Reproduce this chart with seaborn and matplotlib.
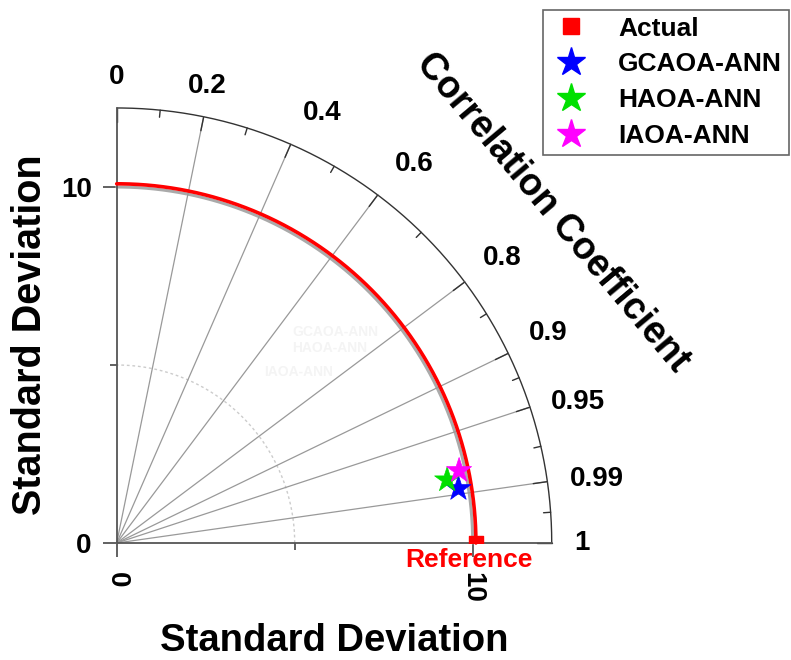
import numpy as np
import pandas as pd
import matplotlib
matplotlib.use('Agg')
import matplotlib.pyplot as plt
import seaborn as sns
from matplotlib.lines import Line2D

# ---------------- data ----------------
models = ['GCAOA-ANN', 'HAOA-ANN', 'IAOA-ANN']
model_std = [9.72, 9.45, 9.83]
model_corr = [0.9876, 0.9823, 0.9784]
model_colors = ['#0000ff', '#00e000', '#ff00ff']
ref_label = 'Actual'
ref_std = 10.09
ref_color = '#ff0000'
corr_major = [0, 0.2, 0.4, 0.6, 0.8, 0.9, 0.95, 0.99, 1]
corr_major_labels = ['0', '0.2', '0.4', '0.6', '0.8', '0.9', '0.95', '0.99', '1']
corr_minor = [0.1, 0.3, 0.5, 0.7, 0.85, 0.925, 0.975, 0.9975]
std_major = [0, 10]
std_major_labels = ['0', '10']
std_minor = [5]
std_max = 12.22
std_dotted = 5
std_grid = 10

# ---------------- style ----------------
sns.set_theme(style='white')
plt.rcParams['font.family'] = ['Liberation Sans', 'DejaVu Sans']
plt.rcParams['font.weight'] = 'bold'
plt.rcParams['text.color'] = 'black'
plt.rcParams['axes.labelcolor'] = 'black'
plt.rcParams['xtick.color'] = 'black'
plt.rcParams['ytick.color'] = 'black'

W, H = 791, 660
fig = plt.figure(figsize=(W / 100, H / 100), dpi=100)
scale = 35.6          # pixels per std unit
L = 12.6
ox, oy = 116.7, 543
ax = fig.add_axes([ox / W, (H - oy) / H, L * scale / W, L * scale / H])
ax.set_xlim(0, L)
ax.set_ylim(0, L)
for s in ax.spines.values():
    s.set_visible(False)
ax.patch.set_alpha(0)

axc = '#555555'
# axis lines
ax.plot([0, 0], [0, std_max], color=axc, lw=1.3, clip_on=False, zorder=3)
ax.plot([0, std_max], [0, 0], color=axc, lw=1.3, clip_on=False, zorder=3)

ax.set_xticks(std_major)
ax.set_xticklabels(std_major_labels, rotation=-90)
ax.set_xticks(std_minor, minor=True)
ax.set_yticks(std_major)
ax.set_yticklabels(std_major_labels)
ax.set_yticks(std_minor, minor=True)
ax.tick_params(which='both', bottom=True, left=True, direction='out', color=axc, width=1.3)
ax.tick_params(which='major', length=10, labelsize=20, labelcolor='black')
ax.tick_params(axis='x', which='major', pad=11)
ax.tick_params(axis='y', which='major', pad=8)
ax.tick_params(which='minor', length=5)
for t in ax.get_xticklabels() + ax.get_yticklabels():
    t.set_fontweight('bold')

th = np.linspace(0, np.pi / 2, 400)
# outer arc
ax.plot(std_max * np.cos(th), std_max * np.sin(th), color='#333333', lw=1.0, clip_on=False)
# std grid circle and dotted circle
ax.plot(std_grid * np.cos(th), std_grid * np.sin(th), color='#aaaaaa', lw=2.2, clip_on=False)
ax.plot(std_dotted * np.cos(th), std_dotted * np.sin(th), color='#cccccc', lw=1.0,
        ls=(0, (2, 2)), clip_on=False)
# correlation rays
for c in corr_major[1:-1]:
    s_ = np.sqrt(1 - c ** 2)
    ax.plot([0, std_max * c], [0, std_max * s_], color='#999999', lw=0.9, clip_on=False)
# reference arc
ax.plot(ref_std * np.cos(th), ref_std * np.sin(th), color=ref_color, lw=2.6, clip_on=False, zorder=4)

# ticks on the outer arc
for c in corr_major:
    s_ = np.sqrt(1 - c ** 2)
    ax.plot([(std_max - 0.4) * c, std_max * c], [(std_max - 0.4) * s_, std_max * s_],
            color='#333333', lw=1.0, clip_on=False)
for c in corr_minor:
    s_ = np.sqrt(1 - c ** 2)
    ax.plot([(std_max - 0.2) * c, std_max * c], [(std_max - 0.2) * s_, std_max * s_],
            color='#333333', lw=1.0, clip_on=False)
# correlation labels
for c, lab in zip(corr_major, corr_major_labels):
    s_ = np.sqrt(1 - c ** 2)
    ang = np.degrees(np.arccos(c))
    if ang >= 70:
        ha, va = 'center', 'bottom'
    elif ang >= 20:
        ha, va = 'left', 'bottom'
    else:
        ha, va = 'left', 'center'
    off = 13 + 6 * max(0.0, np.sin(np.radians(2 * ang)) - 0.5) * (ang > 45)
    ax.annotate(lab, xy=(std_max * c, std_max * s_), xytext=(off * c + 3 * (ang < 70), off * s_),
                textcoords='offset points', ha=ha, va=va, fontsize=20,
                fontweight='bold', color='black', annotation_clip=False)

# model points
df = pd.DataFrame({
    'model': models,
    'x': np.array(model_std) * np.array(model_corr),
    'y': np.array(model_std) * np.sqrt(1 - np.array(model_corr) ** 2),
})
sns.scatterplot(data=df, x='x', y='y', hue='model', hue_order=models,
                palette=dict(zip(models, model_colors)), marker='*', s=360,
                edgecolor='face', linewidth=0.5, legend=False, ax=ax, zorder=6)
ax.set_xlabel('')
ax.set_ylabel('')

# reference point
ax.scatter([ref_std], [0], marker='s', s=9.5 ** 2, color=ref_color, zorder=7, clip_on=True)
ax.annotate('Reference', xy=(ref_std, 0), xytext=(-5, -12), textcoords='offset points',
            ha='center', va='center', fontsize=19, fontweight='bold', color=ref_color,
            annotation_clip=False, zorder=8)

# faint ghost labels
for lab, (px, py) in zip(models, [(335, 332), (330, 348), (299, 372)]):
    fig.text(px / W, 1 - py / H, lab, color='#f4f4f4', fontsize=10, ha='center', va='center')

# axis titles
fig.text(334 / W, 1 - 641 / H, 'Standard Deviation', ha='center', va='center',
         fontsize=27.5, fontweight='bold')
fig.text(30 / W, 1 - 335 / H, 'Standard Deviation', ha='center', va='center',
         fontsize=28.5, fontweight='bold', rotation=90)
fig.text(553 / W, 1 - 212 / H, 'Correlation Coefficient', ha='center', va='center',
         fontsize=27, fontweight='bold', rotation=-50, rotation_mode='anchor')

# legend
handles = [Line2D([], [], ls='', marker='s', ms=11, color=ref_color, label=ref_label)]
for m, col in zip(models, model_colors):
    handles.append(Line2D([], [], ls='', marker='*', ms=21, color=col, label=m))
leg = fig.legend(handles=handles, loc='upper left', bbox_to_anchor=(543 / W, 1 - 10 / H),
                 frameon=True, fancybox=False, edgecolor='#666666', framealpha=1,
                 prop={'weight': 'bold', 'size': 19}, labelspacing=0.45,
                 handletextpad=1.0, borderpad=0.25, handlelength=1.6, borderaxespad=0)
leg.get_frame().set_linewidth(1.2)

fig.savefig('out.png', dpi=100)
